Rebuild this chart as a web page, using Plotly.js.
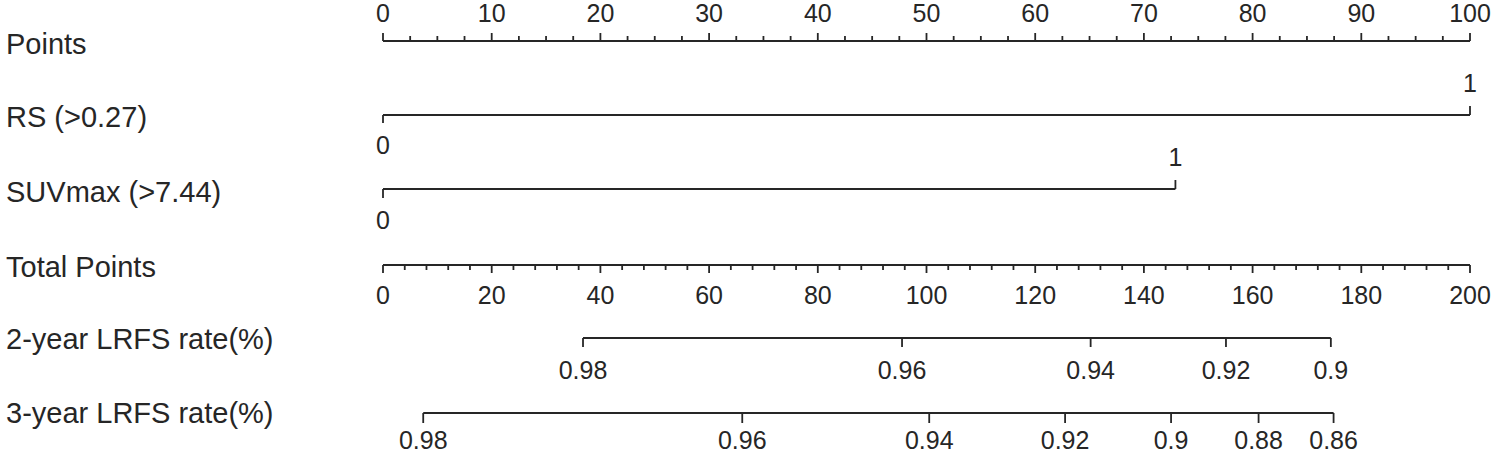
<!DOCTYPE html>
<html>
<head>
<meta charset="utf-8">
<script src="https://cdn.plot.ly/plotly-3.0.1.min.js"></script>
<style>
  html, body { margin: 0; padding: 0; background: #fff; }
  #nomograma { width: 1499px; height: 458px; }
</style>
</head>
<body>
<div id="nomograma"></div>
<script>
// Rótulos das linhas do nomograma
const rowLabels = ["Points", "RS (>0.27)", "SUVmax (>7.44)", "Total Points", "2-year LRFS rate(%)", "3-year LRFS rate(%)"];

// Escala de pontos (0-100)
const pointsTicks = [0, 10, 20, 30, 40, 50, 60, 70, 80, 90, 100];

// Variáveis: nível -> pontos
const rsLevels = ["0", "1"];
const rsPoints = [0, 100];
const suvLevels = ["0", "1"];
const suvPoints = [0, 72.9];

// Escala de pontos totais (0-200)
const totalTicks = [0, 20, 40, 60, 80, 100, 120, 140, 160, 180, 200];

// Probabilidades -> pontos totais
const lrfs2Labels = ["0.98", "0.96", "0.94", "0.92", "0.9"];
const lrfs2Total = [36.8, 95.5, 130.2, 155.1, 174.4];
const lrfs3Labels = ["0.98", "0.96", "0.94", "0.92", "0.9", "0.88", "0.86"];
const lrfs3Total = [7.4, 66.1, 100.5, 125.5, 145.0, 161.1, 174.9];

// Posições verticais (px) de cada linha
const rowY = { points: 41, rs: 115, suv: 189, total: 265, lrfs2: 338, lrfs3: 413 };
const labelY = [44, 117, 192, 267, 339, 413];

const cor = "#262626";
const fonte = "Liberation Sans, Arial, sans-serif";

// Gera segmentos verticais (ticks) com separadores null
function segmentos(xs, y0, y1) {
    const x = [], y = [];
    xs.forEach(v => { x.push(v, v, null); y.push(y0, y1, null); });
    return { x, y };
}

function linha(xs, ys, eixo) {
    return { x: xs, y: ys, xaxis: eixo, yaxis: "y", mode: "lines",
             line: { color: cor, width: 1.8 }, hoverinfo: "skip", showlegend: false };
}

function textos(xs, y, labels, eixo) {
    return { x: xs, y: xs.map(() => y), text: labels, xaxis: eixo, yaxis: "y", mode: "text",
             textposition: "middle center", textfont: { family: fonte, size: 25, color: cor },
             hoverinfo: "skip", showlegend: false, cliponaxis: false };
}

// ticks menores
const pointsMinor = [];
for (let i = 0; i <= 100; i += 2.5) if (i % 10 !== 0) pointsMinor.push(i);
const totalMinor = [];
for (let i = 0; i <= 200; i += 4) if (i % 20 !== 0) totalMinor.push(i);

const traces = [];

// Points
traces.push(linha([0, 100], [rowY.points, rowY.points], "x"));
let s = segmentos(pointsTicks, rowY.points, rowY.points - 8);
traces.push(linha(s.x, s.y, "x"));
s = segmentos(pointsMinor, rowY.points, rowY.points - 5);
traces.push(linha(s.x, s.y, "x"));
traces.push(textos(pointsTicks, 16, pointsTicks.map(String), "x"));

// RS
traces.push(linha(rsPoints, [rowY.rs, rowY.rs], "x"));
traces.push(linha([rsPoints[0], rsPoints[0]], [rowY.rs, rowY.rs + 8], "x"));
traces.push(linha([rsPoints[1], rsPoints[1]], [rowY.rs, rowY.rs - 9], "x"));
traces.push(textos([rsPoints[0]], 148, [rsLevels[0]], "x"));
traces.push(textos([rsPoints[1]], 86, [rsLevels[1]], "x"));

// SUVmax
traces.push(linha(suvPoints, [rowY.suv, rowY.suv], "x"));
traces.push(linha([suvPoints[0], suvPoints[0]], [rowY.suv, rowY.suv + 9], "x"));
traces.push(linha([suvPoints[1], suvPoints[1]], [rowY.suv, rowY.suv - 9], "x"));
traces.push(textos([suvPoints[0]], 223, [suvLevels[0]], "x"));
traces.push(textos([suvPoints[1]], 160, [suvLevels[1]], "x"));

// Total Points
traces.push(linha([0, 200], [rowY.total, rowY.total], "x2"));
s = segmentos(totalTicks, rowY.total, rowY.total + 8);
traces.push(linha(s.x, s.y, "x2"));
s = segmentos(totalMinor, rowY.total, rowY.total + 5);
traces.push(linha(s.x, s.y, "x2"));
traces.push(textos(totalTicks, 298, totalTicks.map(String), "x2"));

// 2-year LRFS
traces.push(linha([lrfs2Total[0], lrfs2Total[lrfs2Total.length - 1]], [rowY.lrfs2, rowY.lrfs2], "x2"));
s = segmentos(lrfs2Total, rowY.lrfs2, rowY.lrfs2 + 9);
traces.push(linha(s.x, s.y, "x2"));
traces.push(textos(lrfs2Total, 373, lrfs2Labels, "x2"));

// 3-year LRFS
traces.push(linha([lrfs3Total[0], lrfs3Total[lrfs3Total.length - 1]], [rowY.lrfs3, rowY.lrfs3], "x2"));
s = segmentos(lrfs3Total, rowY.lrfs3, rowY.lrfs3 + 10);
traces.push(linha(s.x, s.y, "x2"));
traces.push(textos(lrfs3Total, 443, lrfs3Labels, "x2"));

// escala: 0 pts -> 383px, 100 pts -> 1470px
const pxPorPonto = (1470 - 383) / 100;
const xMin = -383 / pxPorPonto;
const xMax = (1499 - 383) / pxPorPonto;

const layout = {
    width: 1499,
    height: 458,
    margin: { l: 0, r: 0, t: 0, b: 0 },
    paper_bgcolor: "#fff",
    plot_bgcolor: "#fff",
    showlegend: false,
    xaxis: { range: [xMin, xMax], visible: false, fixedrange: true },
    xaxis2: { range: [xMin * 2, xMax * 2], visible: false, overlaying: "x", fixedrange: true },
    yaxis: { range: [458, 0], visible: false, fixedrange: true },
    annotations: rowLabels.map((t, i) => ({
        text: t, xref: "paper", yref: "y", x: 0.003, y: labelY[i],
        xanchor: "left", yanchor: "middle", showarrow: false,
        font: { family: fonte, size: 29, color: cor }
    }))
};

Plotly.newPlot("nomograma", traces, layout, { staticPlot: true });
</script>
</body>
</html>
